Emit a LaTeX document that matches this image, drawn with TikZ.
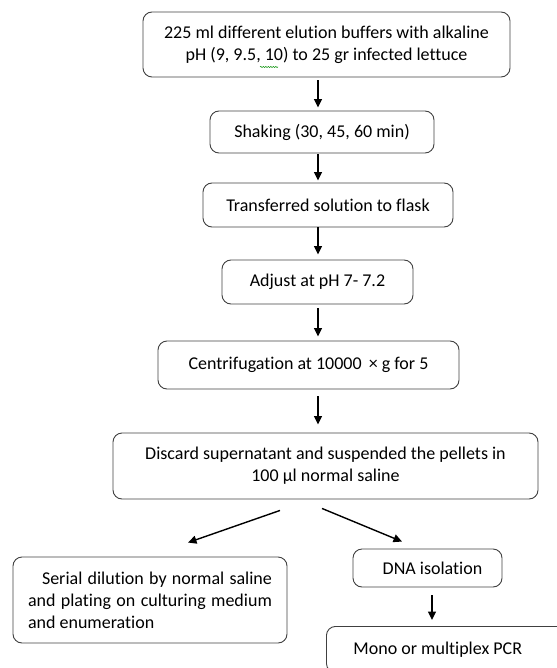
\documentclass[tikz,border=0pt]{standalone}
\usepackage{fontspec}
\setmainfont{Carlito}[Ligatures={NoCommon}]
\usetikzlibrary{arrows.meta,calc,decorations.pathmorphing}
\begin{document}
\begin{tikzpicture}[x=1pt,y=-1pt,
  box/.style={draw=black!75, line width=0.9pt, rounded corners=9pt, inner sep=0pt, align=center, font=\fontsize{18}{22}\selectfont},
  arr/.style={line width=1.4pt, -{Triangle[length=8.5pt,width=8pt]}}]
\useasboundingbox (0,0) rectangle (556,668);
\coordinate (ax) at (318,0);
\node[box, minimum width=367pt, minimum height=65pt] (b1) at (326.5,44.5) {225 ml different elution buffers with alkaline\\pH (9, 9.5, 10) to 25 gr infected lettuce};
\draw[green!55!black, line width=0.5pt, decorate, decoration={snake, amplitude=0.6pt, segment length=2.5pt}] (260,67) -- (278,67);
\node[box, minimum width=224pt, minimum height=42pt] (b2) at (322,132) {Shaking (30, 45, 60 min)};
\node[box, minimum width=250pt, minimum height=44pt] (b3) at (328,205) {Transferred solution to flask};
\node[box, minimum width=191pt, minimum height=44pt] (b4) at (317.5,282) {Adjust at pH 7- 7.2};
\node[box, minimum width=301pt, minimum height=48pt] (b5) at (308.5,365) {Centrifugation at 10000 \,× g for 5};
\node[box, minimum width=425pt, minimum height=66pt] (b6) at (325.5,466) {Discard supernatant and suspended the pellets in\\100 µl normal saline};
\node[box, minimum width=274pt, minimum height=86pt, text width=244pt, inner xsep=15pt, align=justify] (b7) at (150,600) {\hspace*{14pt}Serial dilution by normal saline and plating on culturing medium and enumeration};
\node[box, minimum width=149pt, minimum height=38pt] (b8) at (427.5,568) {\hspace*{10pt}DNA isolation};
\node[box, anchor=north west, minimum width=260pt, minimum height=46pt, text width=206pt, inner xsep=27pt, align=flush left] (b9) at (326,626) {Mono or multiplex PCR};

\draw[arr, shorten <=3pt, shorten >=3pt] (b1.south -| ax) -- (b2.north -| ax);
\draw[arr, shorten <=1pt, shorten >=2pt] (b2.south -| ax) -- (b3.north -| ax);
\draw[arr, shorten <=0pt, shorten >=5pt] (b3.south -| ax) -- (b4.north -| ax);
\draw[arr, shorten <=4pt, shorten >=4pt] (b4.south -| ax) -- (b5.north -| ax);
\draw[arr, shorten <=7pt, shorten >=8pt] (b5.south -| ax) -- (b6.north -| ax);
\draw[arr] ([shift={(-45.5,11)}]b6.south) -- ([shift={(38,-14)}]b7.north);
\draw[arr] ([shift={(-3.5,9)}]b6.south) -- ([shift={(-25.5,-7)}]b8.north);
\draw[arr, shorten <=8pt, shorten >=6pt] ([xshift=4.5pt]b8.south) -- ([xshift=4.5pt]b8.south |- b9.north);
\end{tikzpicture}
\end{document}
